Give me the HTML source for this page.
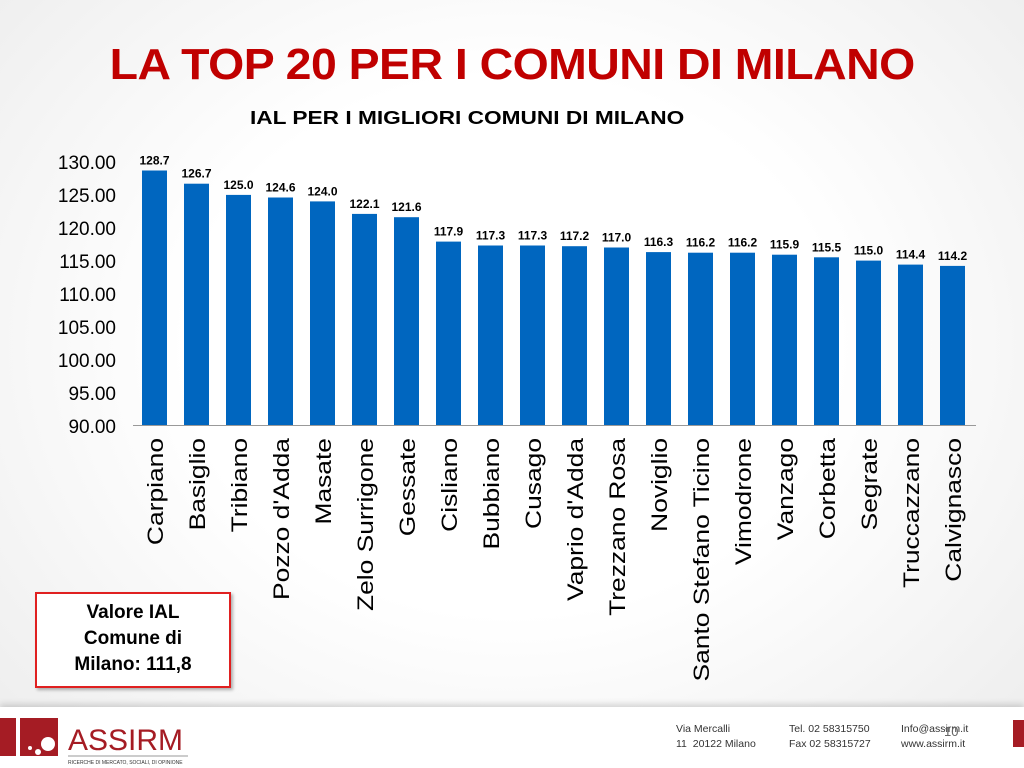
<!DOCTYPE html>
<html><head><meta charset="utf-8"><style>
body{margin:0;width:1024px;height:768px;overflow:hidden;font-family:"Liberation Sans",sans-serif;background:radial-gradient(ellipse at 50% 45%,#fff 45%,#ececec 100%);position:relative}
.t{position:absolute;left:0;width:1024px;text-align:center;top:40px;font-size:44px;font-weight:bold;color:#c00000;letter-spacing:-0.5px;transform:scaleX(1.055);transform-origin:509px 0}
.st{position:absolute;left:250px;top:108px;font-size:18px;font-weight:bold;color:#000;transform:scaleX(1.26);transform-origin:0 0;white-space:nowrap}
.box{position:absolute;left:35px;top:592px;text-align:center;font-size:19px;font-weight:bold;line-height:26px;padding-top:6px;box-sizing:border-box;width:196px;height:96px;border:2px solid #e02020;background:#fff;box-shadow:2px 2px 3px rgba(0,0,0,.3)}
.foot{position:absolute;left:0;top:707px;width:1024px;height:61px;background:#fff;box-shadow:0 -3px 6px rgba(0,0,0,.15)}
.fc{position:absolute;top:722px;font-size:10.5px;color:#333;line-height:15px}
</style></head><body>
<div class="t">LA TOP 20 PER I COMUNI DI MILANO</div>
<div class="st">IAL PER I MIGLIORI COMUNI DI MILANO</div>
<svg width="1024" height="768" style="position:absolute;left:0;top:0" font-family="Liberation Sans, sans-serif">
<g font-size="19" text-anchor="end" fill="#000">
<text x="116" y="169">130.00</text><text x="116" y="202">125.00</text><text x="116" y="235">120.00</text><text x="116" y="268">115.00</text><text x="116" y="301">110.00</text><text x="116" y="334">105.00</text><text x="116" y="367">100.00</text><text x="116" y="400">95.00</text><text x="116" y="433">90.00</text>
</g>
<line x1="133" y1="425.5" x2="976" y2="425.5" stroke="#999" stroke-width="1"/>
<g id="bars"></g>
</svg>
<div class="box">Valore IAL<br>Comune di<br>Milano: 111,8</div>
<div class="foot"></div>
<svg style="position:absolute;left:0;top:712px" width="240" height="56">
<rect x="0" y="6" width="16" height="38" fill="#a51c24"/>
<rect x="20" y="6" width="38" height="38" fill="#a51c24"/>
<circle cx="48" cy="32" r="7" fill="#fff"/><circle cx="38" cy="40" r="3" fill="#fff"/><circle cx="30" cy="36" r="2" fill="#fff"/>
<text x="68" y="38" font-family="Liberation Sans Narrow, Liberation Sans, sans-serif" font-size="30" fill="#a51c24">ASSIRM</text>
<line x1="68" y1="44" x2="188" y2="44" stroke="#999"/>
<text x="68" y="52" font-size="5" fill="#333" font-family="Liberation Sans, sans-serif">RICERCHE DI MERCATO, SOCIALI, DI OPINIONE</text>
</svg>
<div class="fc" style="left:676px">Via Mercalli<br>11&nbsp; 20122 Milano</div>
<div class="fc" style="left:789px">Tel. 02 58315750<br>Fax 02 58315727</div>
<div class="fc" style="left:901px">Info@assirm.it<br>www.assirm.it</div>
<div style="position:absolute;left:944px;top:724px;font-size:13px;color:#666">10</div>
<div style="position:absolute;left:1013px;top:720px;width:11px;height:27px;background:#a51c24"></div>
<script>
var d=[["Carpiano",128.7],["Basiglio",126.7],["Tribiano",125.0],["Pozzo d'Adda",124.6],["Masate",124.0],["Zelo Surrigone",122.1],["Gessate",121.6],["Cisliano",117.9],["Bubbiano",117.3],["Cusago",117.3],["Vaprio d'Adda",117.2],["Trezzano Rosa",117.0],["Noviglio",116.3],["Santo Stefano Ticino",116.2],["Vimodrone",116.2],["Vanzago",115.9],["Corbetta",115.5],["Segrate",115.0],["Truccazzano",114.4],["Calvignasco",114.2]];
var g=document.getElementById('bars'),s='';
d.forEach(function(e,i){var x=142+i*42,y=425-(e[1]-90)*6.575;
s+='<rect x="'+x+'" y="'+y.toFixed(1)+'" width="25" height="'+(425-y).toFixed(1)+'" fill="#0066bf"/>';
s+='<text x="'+(x+12.5)+'" y="'+(y-6).toFixed(1)+'" font-size="12" font-weight="bold" text-anchor="middle">'+e[1].toFixed(1)+'</text>';
s+='<text transform="translate('+(x+21)+',438) rotate(-90) scale(1.2,1)" font-size="22" text-anchor="end">'+e[0]+'</text>';});
g.innerHTML=s;
</script>
</body></html>
